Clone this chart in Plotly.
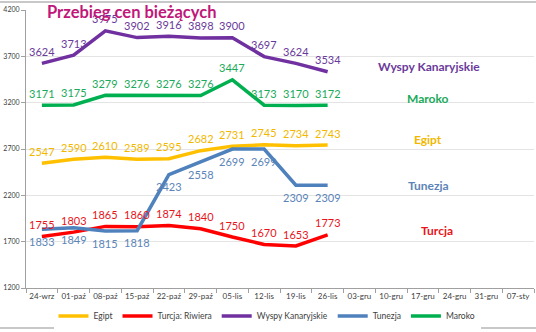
import plotly.graph_objects as go

categories = ["24-wrz", "01-paź", "08-paź", "15-paź", "22-paź", "29-paź", "05-lis", "12-lis",
              "19-lis", "26-lis", "03-gru", "10-gru", "17-gru", "24-gru", "31-gru", "07-sty"]
egipt = [2547, 2590, 2610, 2589, 2595, 2682, 2731, 2745, 2734, 2743]
turcja = [1755, 1803, 1865, 1860, 1874, 1840, 1750, 1670, 1653, 1773]
wyspy = [3624, 3713, 3975, 3902, 3916, 3898, 3900, 3697, 3624, 3534]
tunezja = [1833, 1849, 1815, 1818, 2423, 2558, 2699, 2699, 2309, 2309]
maroko = [3171, 3175, 3279, 3276, 3276, 3276, 3447, 3173, 3170, 3172]
y_ticks = [1200, 1700, 2200, 2700, 3200, 3700, 4200]

FONT = "Lato"
series = [
    ("Egipt", egipt, "#FFC000", "#F2B800", 1),
    ("Turcja: Riwiera", turcja, "#FF0000", "#E8141B", 1),
    ("Wyspy Kanaryjskie", wyspy, "#7030A0", "#6A3A9A", 1),
    ("Tunezja", tunezja, "#4F81BD", "#5B84B8", -1),
    ("Maroko", maroko, "#00B050", "#1AAA5A", 1),
]

W, H = 536, 332
L, R, T, B = 26, 2, 10, 44
pw, ph = W - L - R, H - T - B

def px(x):
    return (x - L) / pw

def py(y):
    return (H - B - y) / ph

fig = go.Figure()
annots = []
for name, vals, col, tcol, side in series:
    cats = categories[:len(vals)]
    fig.add_trace(go.Scatter(
        x=cats, y=vals, name=name, mode="lines",
        line=dict(color=col, width=3.5),
    ))
    for c, v in zip(cats, vals):
        annots.append(dict(x=c, y=v, xref="x", yref="y", text=str(v), showarrow=False,
                           yshift=12 * side, xanchor="center", yanchor="middle",
                           font=dict(family=FONT, size=11, color=tcol)))

annots.append(dict(text="<b>Przebieg cen bieżących</b>", x=px(45), y=py(0), xref="paper",
                   yref="paper", showarrow=False, xanchor="left", yanchor="top",
                   font=dict(family=FONT, size=16.5, color="#C0187A")))

side_labels = [
    ("<b>Wyspy Kanaryjskie</b>", 429, 66, "#6A3A9A"),
    ("<b>Maroko</b>", 428, 98, "#1AAA5A"),
    ("<b>Egipt</b>", 428, 139, "#F2B800"),
    ("<b>Tunezja</b>", 428, 185, "#5B84B8"),
    ("<b>Turcja</b>", 437, 231, "#E8141B"),
]
for text, x, y, col in side_labels:
    annots.append(dict(text=text, x=px(x), y=py(y), xref="paper", yref="paper", showarrow=False,
                       xanchor="center", yanchor="middle", font=dict(family=FONT, size=12, color=col)))

shapes = [
    dict(type="line", xref="paper", yref="paper", x0=px(0), x1=px(W), y0=py(2), y1=py(2),
         line=dict(color="#C8C8C8", width=2)),
    dict(type="line", xref="paper", yref="paper", x0=px(0), x1=px(W), y0=py(328), y1=py(328),
         line=dict(color="#C8C8C8", width=2)),
]

fig.update_layout(
    width=W, height=H, margin=dict(l=L, r=R, t=T, b=B),
    paper_bgcolor="white", plot_bgcolor="white",
    font=dict(family=FONT, size=8, color="#404040"),
    showlegend=True,
    legend=dict(orientation="h", x=px(267), xanchor="center", y=py(316), yanchor="middle",
                font=dict(family=FONT, size=8.5, color="#404040"), itemwidth=30,
                tracegroupgap=0),
    annotations=annots, shapes=shapes,
    xaxis=dict(type="category", categoryorder="array", categoryarray=categories,
               range=[-0.5, len(categories) - 0.5], showgrid=False,
               showline=True, linecolor="#A0A0A0", linewidth=1,
               ticks="outside", ticklen=4, tickcolor="#A0A0A0", tickson="boundaries",
               tickfont=dict(family=FONT, size=8, color="#404040"), tickangle=0),
    yaxis=dict(range=[1200, 4200], tickvals=y_ticks, showgrid=True, gridcolor="#E4E4E4",
               showline=True, linecolor="#A0A0A0", linewidth=1, ticks="outside", ticklen=4,
               tickcolor="#A0A0A0", zeroline=False,
               tickfont=dict(family=FONT, size=7, color="#404040")),
)

fig.write_html("out.html")
